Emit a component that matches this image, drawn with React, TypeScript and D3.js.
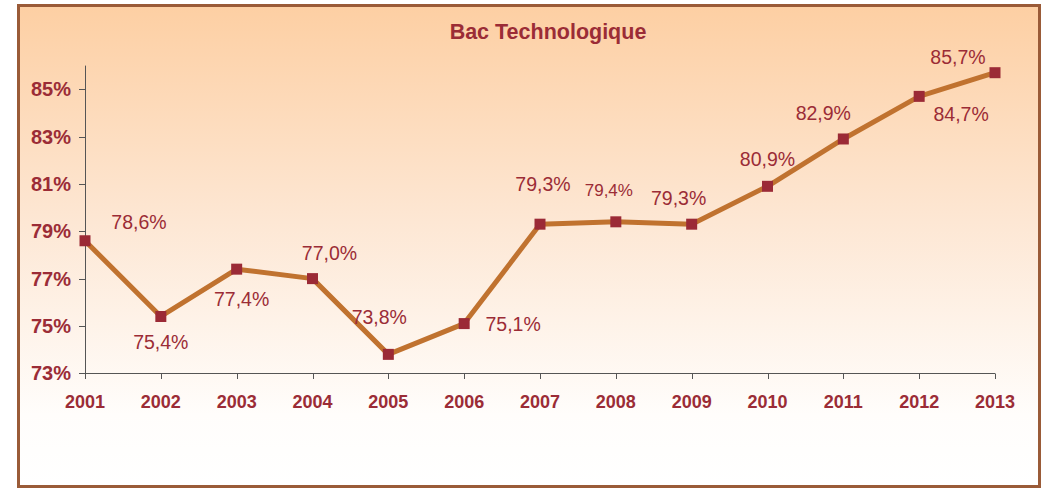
import React from "react";
import * as d3 from "d3";

const years = ["2001","2002","2003","2004","2005","2006","2007","2008","2009","2010","2011","2012","2013"];
const rates = [78.6, 75.4, 77.4, 77.0, 73.8, 75.1, 79.3, 79.4, 79.3, 80.9, 82.9, 84.7, 85.7];
const valueLabels = ["78,6%","75,4%","77,4%","77,0%","73,8%","75,1%","79,3%","79,4%","79,3%","80,9%","82,9%","84,7%","85,7%"];
const yTicks = [73, 75, 77, 79, 81, 83, 85];
const labelDx = [54, 0, 5, 17, -9, 49, 3, -7, -13, 0, -20, 42, -37];
const labelDy = [-19, 26, 30, -26, -37, 0, -40, -31, -26, -27, -26, 18, -16];
const labelSize = [19.5, 19.5, 19.5, 19.5, 19.5, 19.5, 19.5, 17, 19.5, 19.5, 19.5, 19.5, 19.5];

const W = 1047, H = 488;
const RED = "#9b2c36";
const FONT = "'Liberation Sans', Arial, sans-serif";

export default function App() {
  const x = d3.scalePoint<string>().domain(years).range([85, 995]);
  const y = d3.scaleLinear().domain([73, 86]).range([373.3, 65.6]);
  const line = d3.line<number>().x((_, i) => x(years[i])!).y((d) => y(d));
  return (
    <svg width={W} height={H} style={{ position: "absolute", left: 0, top: 0 }}>
      <defs>
        <linearGradient id="bg" x1="0" y1="0" x2="0" y2="1">
          <stop offset="0" stopColor="#fdcfa3" />
          <stop offset="0.45" stopColor="#fde7d4" />
          <stop offset="0.85" stopColor="#fffdfb" />
          <stop offset="1" stopColor="#ffffff" />
        </linearGradient>
      </defs>
      <rect x={0} y={0} width={W} height={H} fill="#ffffff" />
      <rect x={18.5} y={5.5} width={1021} height={481} fill="url(#bg)" stroke="#9a5b38" strokeWidth={3} />
      <text x={548} y={32} textAnchor="middle" dominantBaseline="central" fontFamily={FONT} fontWeight="bold" fontSize={21.5} fill={RED}>Bac Technologique</text>
      {/* y axis */}
      <line x1={85.5} x2={85.5} y1={y(86)} y2={y(73)} stroke="#555" strokeWidth={1} />
      {yTicks.map((t) => (
        <g key={t}>
          <line x1={79} x2={85.5} y1={Math.round(y(t)) + 0.5} y2={Math.round(y(t)) + 0.5} stroke="#555" strokeWidth={1} />
          <text x={71} y={y(t)} textAnchor="end" dominantBaseline="central" fontFamily={FONT} fontWeight="bold" fontSize={20} fill={RED}>{t}%</text>
        </g>
      ))}
      {/* x axis */}
      <line x1={85} x2={995} y1={373.5} y2={373.5} stroke="#555" strokeWidth={1} />
      {years.map((yr) => (
        <g key={yr}>
          <line x1={Math.round(x(yr)!) + 0.5} x2={Math.round(x(yr)!) + 0.5} y1={373.5} y2={379} stroke="#555" strokeWidth={1} />
          <text x={x(yr)} y={402} textAnchor="middle" dominantBaseline="central" fontFamily={FONT} fontWeight="bold" fontSize={18} fill={RED}>{yr}</text>
        </g>
      ))}
      <path d={line(rates) || ""} fill="none" stroke="#c0722f" strokeWidth={5} strokeLinejoin="round" />
      {rates.map((v, i) => (
        <rect key={i} x={x(years[i])! - 5.5} y={y(v) - 5.5} width={11} height={11} fill="#9b2a36" />
      ))}
      {rates.map((v, i) => (
        <text key={"l" + i} x={x(years[i])! + labelDx[i]} y={y(v) + labelDy[i]} textAnchor="middle" dominantBaseline="central" fontFamily={FONT} fontSize={labelSize[i]} fill={RED}>{valueLabels[i]}</text>
      ))}
    </svg>
  );
}
